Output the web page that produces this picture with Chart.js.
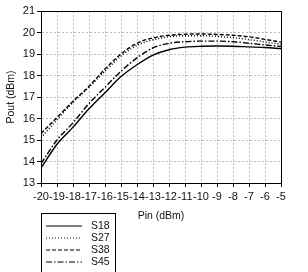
<!DOCTYPE html>
<html>
<head>
<meta charset="utf-8">
<script src="https://cdn.jsdelivr.net/npm/chart.js@4"></script>
<style>
  html, body { margin: 0; padding: 0; background: #fff; }
  #wrap { width: 308px; height: 272px; }
</style>
</head>
<body>
<div id="wrap"><canvas id="chart" width="308" height="272"></canvas></div>
<script>
// input power (dBm)
const pin = [-20, -19, -18, -17, -16, -15, -14, -13, -12, -11, -10, -9, -8, -7, -6, -5];
// output power (dBm) per sample
const s18 = [13.7, 14.8, 15.6, 16.45, 17.2, 17.95, 18.5, 18.95, 19.2, 19.32, 19.36, 19.37, 19.36, 19.33, 19.3, 19.25];
const s27 = [15.1, 15.95, 16.75, 17.45, 18.2, 18.9, 19.4, 19.66, 19.8, 19.85, 19.85, 19.82, 19.76, 19.67, 19.56, 19.45];
const s38 = [15.3, 16.05, 16.8, 17.5, 18.3, 19.0, 19.5, 19.75, 19.87, 19.92, 19.93, 19.91, 19.87, 19.8, 19.68, 19.55];
const s45 = [13.9, 15.0, 15.8, 16.7, 17.45, 18.2, 18.82, 19.28, 19.5, 19.57, 19.6, 19.6, 19.57, 19.5, 19.42, 19.35];
const yTicks = [13, 14, 15, 16, 17, 18, 19, 20, 21];

const FONT = "'Liberation Sans', Arial, sans-serif";

function pts(arr) {
    return arr.map((v, i) => ({ x: pin[i], y: v }));
}

function series(label, arr, dash) {
    return {
        label: label,
        data: pts(arr),
        borderColor: '#000',
        borderWidth: 1.4,
        borderDash: dash,
        pointRadius: 0,
        cubicInterpolationMode: 'monotone',
        fill: false
    };
}

// black frame on top/right of the plot + boxed legend under the chart
const framePlugin = {
    id: 'frame',
    afterDraw(chart) {
        const ctx = chart.ctx;
        const a = chart.chartArea;
        ctx.save();
        ctx.strokeStyle = '#000';
        ctx.lineWidth = 1;
        ctx.beginPath();
        ctx.moveTo(a.left, a.top + 0.5);
        ctx.lineTo(a.right + 0.5, a.top + 0.5);
        ctx.lineTo(a.right + 0.5, a.bottom);
        ctx.stroke();

        // legend box
        const bx = 41.5, by = 213.5, bw = 74, bh = 70;
        ctx.strokeRect(bx, by, bw, bh);
        ctx.font = '10.5px ' + FONT;
        ctx.fillStyle = '#111';
        ctx.textBaseline = 'middle';
        chart.data.datasets.forEach((ds, i) => {
            const y = 226 + i * 12;
            ctx.setLineDash(ds.borderDash || []);
            ctx.lineWidth = 1.2;
            ctx.beginPath();
            ctx.moveTo(46, y);
            ctx.lineTo(82, y);
            ctx.stroke();
            ctx.setLineDash([]);
            ctx.fillText(ds.label, 91, y);
        });
        ctx.restore();
    }
};

new Chart(document.getElementById('chart').getContext('2d'), {
    type: 'line',
    data: {
        datasets: [
            series('S18', s18, []),
            series('S27', s27, [1, 2]),
            series('S38', s38, [4, 2]),
            series('S45', s45, [6, 2, 1.5, 2])
        ]
    },
    options: {
        responsive: false,
        animation: false,
        devicePixelRatio: 1,
        layout: { padding: { left: 0, top: 11, right: 27, bottom: 50 } },
        plugins: {
            legend: { display: false },
            tooltip: { enabled: false }
        },
        scales: {
            x: {
                type: 'linear',
                min: -20,
                max: -5,
                afterFit: s => { s.height = 39; },
                afterBuildTicks: s => { s.ticks = pin.map(v => ({ value: v })); },
                ticks: {
                    autoSkip: false,
                    maxRotation: 0,
                    padding: 3,
                    color: '#111',
                    font: { family: FONT, size: 11 }
                },
                grid: {
                    color: '#bbb',
                    lineWidth: 1,
                    tickColor: '#000',
                    tickLength: 4,
                    tickBorderDash: []
                },
                border: { display: true, color: '#000', width: 1, dash: [2, 2] },
                title: {
                    display: true,
                    text: 'Pin (dBm)',
                    color: '#111',
                    padding: { top: 2, bottom: 0 },
                    font: { family: FONT, size: 10.5 }
                }
            },
            y: {
                min: 13,
                max: 21,
                afterFit: s => { s.width = 41; },
                afterBuildTicks: s => { s.ticks = yTicks.map(v => ({ value: v })); },
                ticks: {
                    padding: 2,
                    color: '#111',
                    font: { family: FONT, size: 11 }
                },
                grid: {
                    color: '#bbb',
                    lineWidth: 1,
                    tickColor: '#000',
                    tickLength: 4,
                    tickBorderDash: []
                },
                border: { display: true, color: '#000', width: 1, dash: [2, 2] },
                title: {
                    display: true,
                    text: 'Pout (dBm)',
                    color: '#111',
                    padding: { top: 5, bottom: 2 },
                    font: { family: FONT, size: 10.5 }
                }
            }
        }
    },
    plugins: [framePlugin]
});
</script>
</body>
</html>
